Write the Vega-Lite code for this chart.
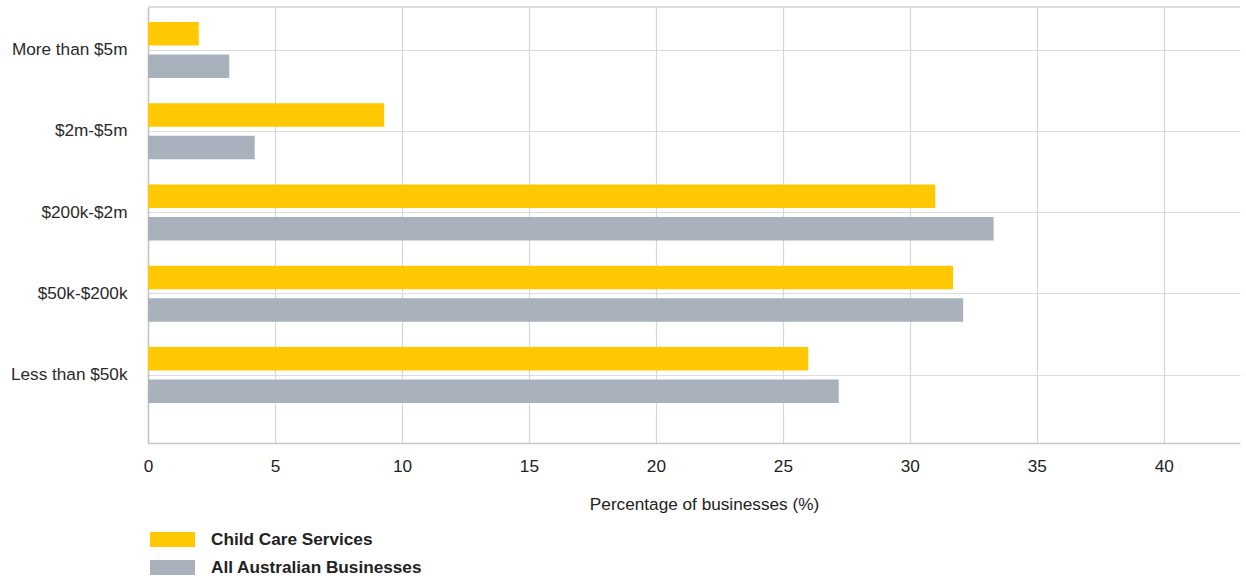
{
  "$schema": "https://vega.github.io/schema/vega-lite/v6.json",
  "autosize": {"type": "none"},
  "width": 1092,
  "height": 436,
  "padding": {"left": 148, "top": 7, "right": 6, "bottom": 135},
  "background": "white",
  "config": {
    "font": "Liberation Sans",
    "view": {"stroke": null}
  },
  "data": {
    "values": [
      {"band": "More than $5m", "series": "Child Care Services", "pct": 2.0},
      {"band": "More than $5m", "series": "All Australian Businesses", "pct": 3.2},
      {"band": "$2m-$5m", "series": "Child Care Services", "pct": 9.3},
      {"band": "$2m-$5m", "series": "All Australian Businesses", "pct": 4.2},
      {"band": "$200k-$2m", "series": "Child Care Services", "pct": 31.0},
      {"band": "$200k-$2m", "series": "All Australian Businesses", "pct": 33.3},
      {"band": "$50k-$200k", "series": "Child Care Services", "pct": 31.7},
      {"band": "$50k-$200k", "series": "All Australian Businesses", "pct": 32.1},
      {"band": "Less than $50k", "series": "Child Care Services", "pct": 26.0},
      {"band": "Less than $50k", "series": "All Australian Businesses", "pct": 27.2}
    ]
  },
  "layer": [
    {
      "mark": {"type": "bar"},
      "encoding": {
        "y": {
          "field": "band",
          "type": "nominal",
          "sort": ["More than $5m", "$2m-$5m", "$200k-$2m", "$50k-$200k", "Less than $50k"],
          "scale": {"paddingInner": 0, "paddingOuter": 0.183, "align": 0.08},
          "axis": {
            "title": null,
            "ticks": false,
            "domain": true,
            "domainColor": "#c4c4c4",
            "domainWidth": 1.5,
            "grid": true,
            "gridColor": "#dcdcdc",
            "gridWidth": 1.2,
            "bandPosition": 0.5,
            "labelFontSize": 17.2,
            "labelColor": "#2a2a2a",
            "labelPadding": 21
          }
        },
        "yOffset": {
          "field": "series",
          "type": "nominal",
          "sort": ["Child Care Services", "All Australian Businesses"],
          "scale": {"paddingInner": 0.277, "paddingOuter": 0.3885}
        },
        "x": {
          "field": "pct",
          "type": "quantitative",
          "scale": {"domain": [0, 43], "nice": false, "zero": true},
          "axis": {
            "title": "Percentage of businesses (%)",
            "titleFontSize": 17.2,
            "titleFontWeight": "normal",
            "titleColor": "#222222",
            "titlePadding": 21,
            "titleX": 556,
            "values": [0, 5, 10, 15, 20, 25, 30, 35, 40],
            "ticks": false,
            "tickSize": 0,
            "labelFlush": false,
            "domainColor": "#c8c8c8",
            "domainWidth": 1.5,
            "grid": true,
            "gridColor": "#d6d6d6",
            "gridWidth": 1.2,
            "labelFontSize": 17.2,
            "labelColor": "#222222",
            "labelPadding": 14
          }
        },
        "color": {
          "field": "series",
          "type": "nominal",
          "sort": ["Child Care Services", "All Australian Businesses"],
          "scale": {"domain": ["Child Care Services", "All Australian Businesses"], "range": ["#FFC800", "#A9B2BC"]},
          "legend": {
            "title": null,
            "orient": "none",
            "legendX": 13,
            "legendY": 521,
            "direction": "vertical",
            "symbolType": "M-2,-0.667H2V0.667H-2Z",
            "symbolSize": 506,
            "symbolStrokeWidth": 0,
            "symbolOpacity": 1,
            "labelFontSize": 17.2,
            "labelFontWeight": "bold",
            "labelColor": "#222222",
            "labelLimit": 500,
            "labelOffset": 27,
            "rowPadding": 8
          }
        }
      }
    },
    {
      "mark": {"type": "rule", "color": "#dcdcdc", "strokeWidth": 1.2},
      "encoding": {
        "x": {"datum": 0, "type": "quantitative"},
        "x2": {"datum": 43},
        "y": {"datum": 1, "type": "quantitative", "scale": {"domain": [0, 1]}, "axis": null}
      }
    }
  ],
  "resolve": {"scale": {"y": "independent"}}
}
